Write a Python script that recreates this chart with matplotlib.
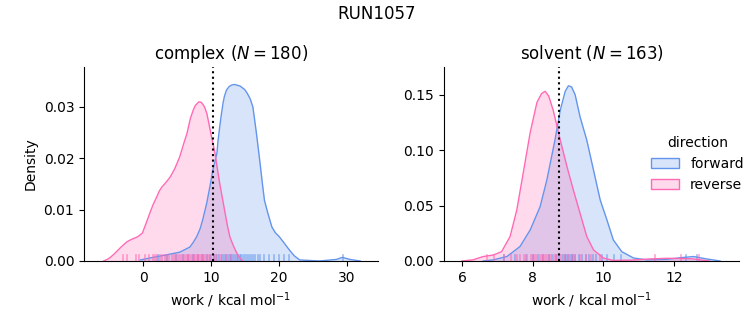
import matplotlib.pyplot as plt
from matplotlib.patches import Patch
import numpy as np

blue = '#6495ED'
pink = '#FF69B4'

# density curves: complex leg
cx_fwd = [-0.4, 1.5, 3.5, 5.4, 6.9, 7.4, 7.9, 8.4, 8.8, 9.4, 9.85, 10.3, 10.6, 10.9, 11.05, 11.3, 11.55, 11.8, 12.0, 12.3, 12.7, 13.1, 13.5, 14.0, 14.3, 14.7, 15.0, 15.4, 15.8, 16.2, 16.7, 17.2, 17.6, 17.9, 18.4, 19.0, 19.5, 20.1, 20.8, 21.6, 22.3, 23.1, 26.0, 28.5, 29.4, 30.5, 32.0]
cy_fwd = [0.0002, 0.0007, 0.0012, 0.0017, 0.0027, 0.0036, 0.0047, 0.0062, 0.008, 0.0113, 0.0144, 0.0177, 0.0193, 0.021, 0.0233, 0.026, 0.0285, 0.0307, 0.032, 0.0332, 0.0339, 0.0342, 0.0343, 0.0341, 0.0340, 0.0336, 0.0333, 0.0325, 0.0315, 0.0299, 0.025, 0.0196, 0.015, 0.0118, 0.0093, 0.0066, 0.0055, 0.0047, 0.0035, 0.0021, 0.001, 0.0002, 0.0, 0.0003, 0.0007, 0.0003, 0.0]
cx_rev = [-5.8, -5.3, -4.9, -4.3, -3.7, -3.0, -2.4, -2.0, -1.5, -0.8, -0.1, 0.5, 1.0, 1.5, 2.0, 2.4, 2.8, 3.4, 4.0, 4.7, 5.4, 6.0, 6.5, 7.0, 7.4, 7.7, 8.0, 8.2, 8.4, 8.6, 8.9, 9.1, 9.4, 9.7, 10.1, 10.35, 10.6, 10.95, 11.3, 11.7, 12.1, 12.45, 12.8, 13.3, 13.8, 14.2, 14.7]
cy_rev = [0.0, 0.0003, 0.0006, 0.0013, 0.0021, 0.003, 0.0037, 0.004, 0.0043, 0.0047, 0.0054, 0.0075, 0.0093, 0.011, 0.0124, 0.0136, 0.0144, 0.0153, 0.0163, 0.018, 0.0202, 0.0228, 0.0249, 0.0278, 0.0293, 0.0302, 0.0306, 0.0309, 0.0309, 0.0308, 0.0303, 0.0298, 0.0287, 0.0268, 0.0241, 0.0226, 0.021, 0.018, 0.0151, 0.0122, 0.0093, 0.0068, 0.0047, 0.003, 0.0016, 0.0007, 0.0]

# density curves: solvent leg
sx_fwd = [6.6, 6.88, 7.27, 7.64, 7.93, 8.21, 8.40, 8.63, 8.78, 8.92, 9.01, 9.1, 9.2, 9.34, 9.53, 9.72, 9.91, 10.10, 10.28, 10.52, 10.85, 11.23, 11.8, 12.2, 12.55, 12.93, 13.3]
sy_fwd = [0.0, 0.001, 0.004, 0.013, 0.028, 0.049, 0.073, 0.109, 0.136, 0.153, 0.158, 0.157, 0.150, 0.130, 0.109, 0.082, 0.055, 0.037, 0.019, 0.0084, 0.0027, 0.001, 0.0015, 0.003, 0.004, 0.0018, 0.0]
sx_rev = [6.0, 6.31, 6.6, 6.89, 7.12, 7.36, 7.55, 7.73, 7.93, 8.12, 8.25, 8.35, 8.45, 8.58, 8.78, 8.97, 9.15, 9.34, 9.53, 9.72, 10.0, 10.28, 10.8, 11.3, 11.8, 12.5, 13.0]
sy_rev = [0.0, 0.001, 0.004, 0.0054, 0.0084, 0.022, 0.046, 0.079, 0.116, 0.143, 0.151, 0.153, 0.149, 0.136, 0.109, 0.085, 0.064, 0.043, 0.022, 0.010, 0.0027, 0.0005, 0.0008, 0.0018, 0.0024, 0.002, 0.0]

# rug samples
rug_c_rev = [-2.9, -2.4, -1.0, -0.6, 0.3, 0.9, 1.4, 1.8, 2.1, 2.5, 2.8, 3.2, 3.5, 3.9, 4.2, 4.6, 4.9, 5.2, 5.5, 5.8, 6.0, 6.3, 6.6, 6.8, 7.1, 7.3, 7.5, 7.7, 7.9, 8.1, 8.3, 8.5, 8.7, 8.9, 9.1, 9.4, 9.7, 10.0, 10.4, 10.9, 11.5, 12.2, 12.9]
rug_c_fwd = [2.2, 3.6, 4.8, 5.9, 6.7, 7.4, 8.1, 8.8, 9.4, 9.9, 10.4, 10.8, 11.2, 11.6, 11.9, 12.2, 12.5, 12.8, 13.0, 13.3, 13.5, 13.8, 14.0, 14.3, 14.5, 14.8, 15.0, 15.3, 15.6, 15.9, 16.2, 16.5, 16.9, 17.3, 17.8, 18.5, 19.3, 20.0, 20.8, 21.5, 29.5]
rug_s_rev = [6.7, 6.9, 7.2, 7.4, 7.55, 7.65, 7.75, 7.85, 7.95, 8.0, 8.05, 8.1, 8.2, 8.25, 8.3, 8.35, 8.4, 8.45, 8.5, 8.6, 8.65, 8.7, 8.8, 8.9, 9.0, 9.1, 9.2, 9.35, 9.5, 9.65, 9.9, 11.45, 12.2, 12.7]
rug_s_fwd = [7.2, 7.5, 7.8, 8.0, 8.15, 8.3, 8.45, 8.55, 8.65, 8.75, 8.85, 8.9, 8.95, 9.0, 9.05, 9.1, 9.15, 9.2, 9.3, 9.4, 9.5, 9.6, 9.7, 9.8, 9.95, 10.1, 10.3, 10.5, 12.35, 12.65]

titles = ['complex ($N = 180$)', 'solvent ($N = 163$)']
means = [10.3, 8.75]

fig = plt.figure(figsize=(7.53, 3.25), dpi=100)
ax1 = fig.add_axes([0.1116, 0.197, 0.390, 0.597])
ax2 = fig.add_axes([0.5896, 0.197, 0.392, 0.597])
fig.suptitle('RUN1057', fontsize=12, y=0.985)

panels = [
    (ax1, cx_fwd, cy_fwd, cx_rev, cy_rev, rug_c_fwd, rug_c_rev),
    (ax2, sx_fwd, sy_fwd, sx_rev, sy_rev, rug_s_fwd, rug_s_rev),
]
for i, (ax, xf, yf, xr, yr, rf, rr) in enumerate(panels):
    for x, y, r, c in [(xf, yf, rf, blue), (xr, yr, rr, pink)]:
        ax.fill_between(x, y, color=c, alpha=0.25, linewidth=0)
        ax.plot(x, y, color=c, lw=1)
        for v in r:
            ax.axvline(v, ymin=0, ymax=0.03, color=c, alpha=0.6, lw=1.2)
    ax.axvline(means[i], color='black', ls=':', lw=1.5)
    ax.set_title(titles[i], fontsize=12)
    ax.set_xlabel('work / kcal mol$^{-1}$')
    ax.spines['top'].set_visible(False)
    ax.spines['right'].set_visible(False)

ax1.set_xlim(-8.7, 34.6)
ax1.set_ylim(0, 0.0377)
ax1.set_xticks([0, 10, 20, 30])
ax1.set_yticks([0, 0.01, 0.02, 0.03])
ax1.set_ylabel('Density')

ax2.set_xlim(5.49, 13.84)
ax2.set_ylim(0, 0.175)
ax2.set_xticks([6, 8, 10, 12])
ax2.set_yticks([0, 0.05, 0.10, 0.15])

handles = [Patch(facecolor=(0.39, 0.58, 0.93, 0.25), edgecolor=blue, label='forward'),
           Patch(facecolor=(1.0, 0.41, 0.71, 0.25), edgecolor=pink, label='reverse')]
ax2.legend(handles=handles, title='direction', loc='center left',
           bbox_to_anchor=(0.66, 0.5), frameon=False)

fig.savefig('out.png', dpi=100)
